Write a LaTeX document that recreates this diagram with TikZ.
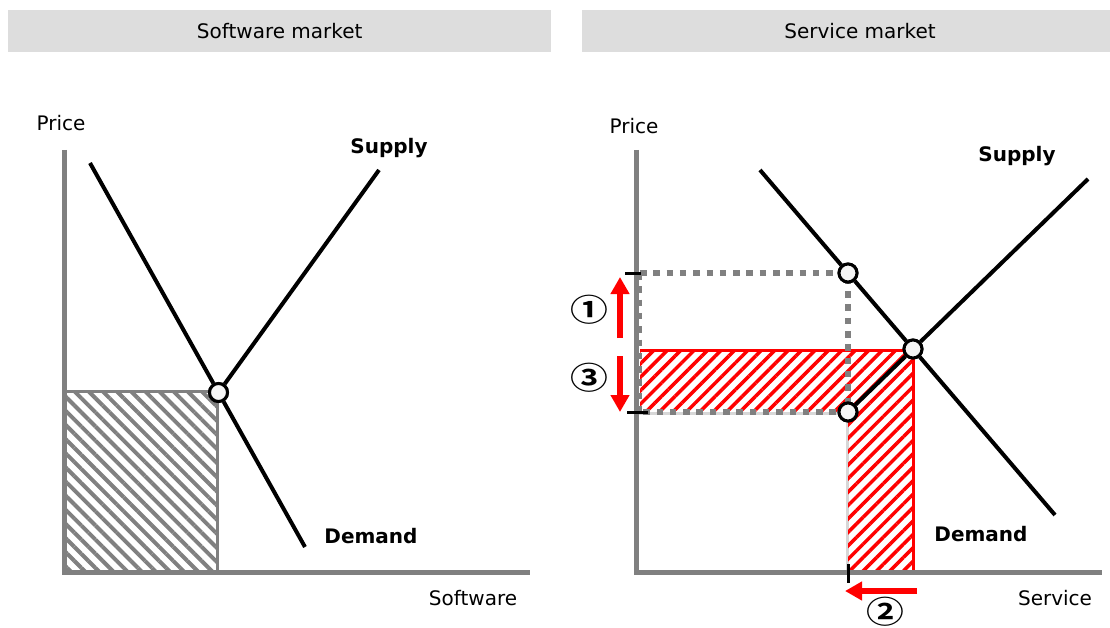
\documentclass[tikz,border=0pt]{standalone}
\usepackage{fontspec}
\setmainfont{DejaVu Sans}
\newfontfamily\cjkfont{Noto Sans CJK JP}[BoldFont={* Bold}]
\usetikzlibrary{patterns.meta,arrows.meta}
\definecolor{axisgray}{RGB}{128,128,128}
\definecolor{headgray}{RGB}{221,221,221}
\definecolor{lightgrayline}{RGB}{215,215,215}
\definecolor{eqfill}{RGB}{245,245,245}
\begin{document}
\begin{tikzpicture}[x=1pt,y=-1pt,
  every node/.style={inner sep=0pt, font=\fontsize{20}{24}\selectfont},
  header/.style={fill=headgray, minimum height=42pt, anchor=north west},
  axis/.style={draw=axisgray, line width=5pt},
  curve/.style={draw=black, line width=4pt},
  eq/.style={circle, draw=black, line width=3pt, fill=eqfill, minimum size=18pt, inner sep=0pt},
  dots/.style={draw=axisgray, line width=6pt, dash pattern=on 6.5pt off 6.8pt},
  redarrow/.style={draw=red, line width=6pt, -{Triangle[length=17pt,width=18pt]}},
  tickmark/.style={draw=black, line width=3pt},
  lbl/.style={font=\fontsize{20}{24}\selectfont\bfseries},
  circnum/.style={font=\fontsize{31}{31}\selectfont\cjkfont\bfseries, xscale=1.22}]
\useasboundingbox (0,0) rectangle (1110,628);

% headers
\node[header, minimum width=543pt] (hl) at (8,10) {Software market};
\node[header, minimum width=528pt] (hr) at (582,10) {};
\node (hrt) at (860,31) {Service market};

% ---------- left panel ----------
\fill[pattern={Lines[angle=-45,distance=10pt,line width=4pt]}, pattern color=axisgray] (65,391) rectangle (217,572);
\draw[draw=axisgray, line width=3pt] (65,391) -- (217,391) -- (217,572);

\coordinate (lyt) at (64.5,150);
\coordinate (lo) at (64.5,572.5);
\coordinate (lxr) at (530,572.5);
\draw[axis] (lyt) -- (64.5,575);
\draw[axis] (62,572.5) -- (lxr);

\node[eq] (leq) at (218.5,392.5) {};
\coordinate (ldt) at (90,163);
\coordinate (ldb) at (305,547);
\coordinate (lst) at (379,170);
\draw[curve] (ldt) -- (leq) -- (ldb);
\draw[curve] (leq) -- (lst);
\node[eq] at (leq) {};

\node (lprice) at (61,123) {Price};
\node[lbl] (lsup) at (389,148) {Supply};
\node[lbl] (ldem) at (371,536) {Demand};
\node (lxl) at (473,598) {Software};

% ---------- right panel ----------
\draw[draw=lightgrayline, line width=3pt] (639,413) -- (847,413) -- (847,572);

\fill[pattern={Lines[angle=45,distance=9.5pt,line width=3.5pt]}, pattern color=red]
  (640,350) -- (913,350) -- (913,572) -- (848,572) -- (848,412) -- (640,412) -- cycle;
\draw[draw=red, line width=3pt] (640,350) -- (913,350) -- (913,572);

\coordinate (p1) at (640,273);
\coordinate (p2) at (640,412);
\draw[dots] (p1) -- (848,273) -- (848,412) -- (p2);
\draw[draw=axisgray, line width=4pt, dash pattern=on 6.5pt off 6.8pt] (p1) -- (p2);

\draw[axis] (636.5,150) -- (636.5,575);
\draw[axis] (634,572.5) -- (1102,572.5);

\node[eq] (rtop) at (848,273) {};
\node[eq] (req) at (913,349) {};
\node[eq] (rlow) at (848,412) {};
\coordinate (rdt) at (760,170);
\coordinate (rdb) at (1055,515);
\coordinate (rst) at (1088,179);
\draw[curve] (rdt) -- (rtop) -- (req) -- (rdb);
\draw[curve] (rlow) -- (req) -- (rst);
\node[eq] at (rtop) {};
\node[eq] at (req) {};
\node[eq] at (rlow) {};

% ticks
\draw[tickmark] (625,273) -- (641,273);
\draw[tickmark] (627,412) -- (648,412);
\draw[tickmark] (848,564) -- (848,583);

% red arrows
\coordinate (a1s) at (620,338);
\coordinate (a1e) at (620,277);
\coordinate (a3s) at (620,356);
\coordinate (a3e) at (620,412);
\coordinate (a2s) at (917,591);
\coordinate (a2e) at (845,591);
\draw[redarrow] (a1s) -- (a1e);
\draw[redarrow] (a3s) -- (a3e);
\draw[redarrow] (a2s) -- (a2e);

\node[circnum] (n1) at (589,310) {①};
\node[circnum] (n3) at (589,378) {③};
\node[circnum] (n2) at (885,612) {②};

\node (rprice) at (634,126) {Price};
\node[lbl] (rsup) at (1017,156) {Supply};
\node[lbl] (rdem) at (981,534) {Demand};
\node (rxl) at (1055,598) {Service};
\end{tikzpicture}
\end{document}
